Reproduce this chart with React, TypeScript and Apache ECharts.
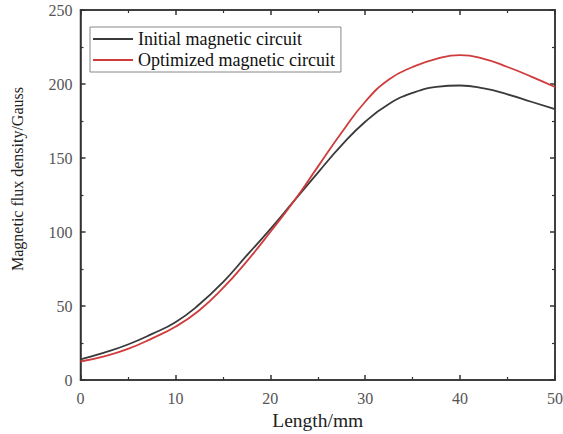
import React, { useEffect, useRef } from "react";
import * as echarts from "echarts";

const lengthMm = [0, 2.5, 5, 7.5, 10, 12.5, 15, 17.5, 20, 22.5, 25, 27.5, 30, 32.5, 35, 37.5, 40, 42.5, 45, 47.5, 50];
const initialCircuit = [14, 18.5, 24, 31, 39, 51, 66, 84, 102, 121, 140, 158.5, 174.5, 186.5, 194, 198, 199, 197, 193, 188, 183];
const optimizedCircuit = [12.5, 16, 21, 28, 36, 47, 62, 80, 100, 121, 144, 167, 188, 203, 211.5, 217, 219.5, 217, 211.5, 205, 198];
const seriesNames = ["Initial magnetic circuit", "Optimized magnetic circuit"];
const yAxisTitle = "Magnetic flux density/Gauss";

const FONT = "'Liberation Serif', 'Times New Roman', serif";

export default function App() {
  const ref = useRef<HTMLDivElement>(null);
  useEffect(() => {
    if (!ref.current) return;
    const chart = echarts.init(ref.current, undefined, { renderer: "svg" });
    const axisLine = { show: true, onZero: false, lineStyle: { color: "#333", width: 1.5 } };
    const tick = { show: true, inside: true, length: 5, lineStyle: { color: "#333", width: 1.5 } };
    const minor = { show: true, splitNumber: 2, length: 3, lineStyle: { color: "#333", width: 1.2 } };
    chart.setOption({
      animation: false,
      backgroundColor: "#fff",
      grid: {
        left: 80.5,
        right: 8,
        top: 10,
        bottom: 54,
        containLabel: false,
        outerBoundsMode: "none",
        show: true,
        borderColor: "#333",
        borderWidth: 1.5,
        backgroundColor: "transparent",
      },
      graphic: [
        {
          type: "text",
          x: 17.5,
          y: 179,
          rotation: Math.PI / 2,
          style: {
            text: yAxisTitle,
            fontFamily: FONT,
            fontSize: 16,
            fill: "#222",
            align: "center",
            verticalAlign: "middle",
          },
        },
      ],
      legend: {
        orient: "vertical",
        left: 90,
        top: 27,
        padding: [3, 6, 3, 3],
        itemGap: 3,
        itemWidth: 40,
        itemHeight: 2,
        icon: "rect",
        borderColor: "#888",
        borderWidth: 1,
        textStyle: { fontFamily: FONT, fontSize: 18, color: "#111" },
        data: seriesNames,
      },
      xAxis: [
        {
          type: "value",
          min: 0,
          max: 50,
          interval: 10,
          name: "Length/mm",
          nameLocation: "middle",
          nameGap: 29,
          nameTextStyle: { fontFamily: FONT, fontSize: 19.5, color: "#222" },
          axisLine,
          axisTick: tick,
          minorTick: minor,
          splitLine: { show: false },
          axisLabel: { fontFamily: FONT, fontSize: 16, color: "#555", margin: 10 },
        },
        {
          type: "value",
          position: "top",
          min: 0,
          max: 50,
          interval: 10,
          show: true,
          axisLine,
          axisTick: tick,
          minorTick: minor,
          splitLine: { show: false },
          axisLabel: { show: false },
        },
      ],
      yAxis: [
        {
          type: "value",
          min: 0,
          max: 250,
          interval: 50,
          axisLine,
          axisTick: tick,
          minorTick: minor,
          splitLine: { show: false },
          axisLabel: { fontFamily: FONT, fontSize: 16, color: "#555", margin: 8 },
        },
        {
          type: "value",
          position: "right",
          min: 0,
          max: 250,
          interval: 50,
          show: true,
          axisLine,
          axisTick: tick,
          minorTick: minor,
          splitLine: { show: false },
          axisLabel: { show: false },
        },
      ],
      series: [
        {
          name: seriesNames[0],
          type: "line",
          smooth: true,
          showSymbol: false,
          symbol: "none",
          color: "#3a3a3a",
          lineStyle: { color: "#3a3a3a", width: 1.8 },
          data: lengthMm.map((x, i) => [x, initialCircuit[i]]),
        },
        {
          name: seriesNames[1],
          type: "line",
          smooth: true,
          showSymbol: false,
          symbol: "none",
          color: "#cf3c3c",
          lineStyle: { color: "#cf3c3c", width: 1.8 },
          data: lengthMm.map((x, i) => [x, optimizedCircuit[i]]),
        },
        {
          name: "frame",
          type: "line",
          xAxisIndex: 1,
          yAxisIndex: 1,
          showSymbol: false,
          symbol: "none",
          silent: true,
          data: [],
        },
      ],
    });
    return () => chart.dispose();
  }, []);
  return (
    <div
      ref={ref}
      style={{ position: "fixed", left: 0, top: 0, width: 563, height: 434, background: "#fff" }}
    />
  );
}
